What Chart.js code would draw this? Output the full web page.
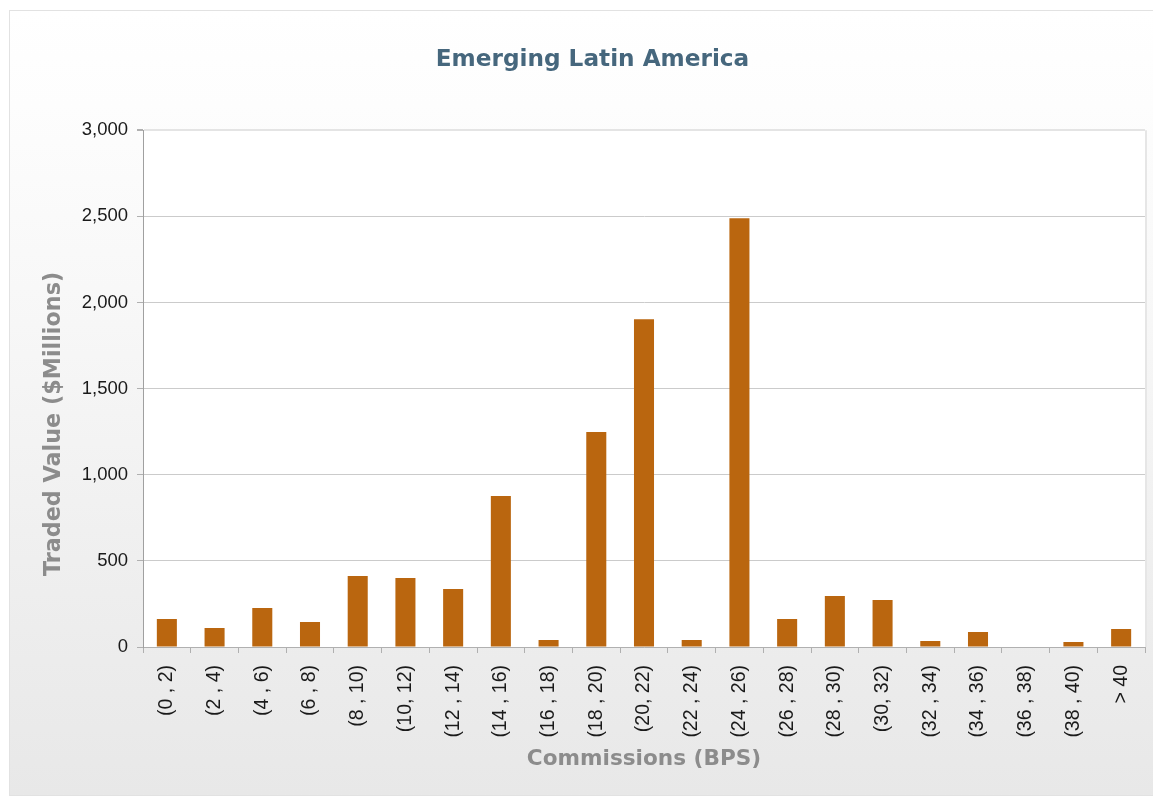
<!DOCTYPE html>
<html>
<head>
<meta charset="utf-8">
<script src="https://cdn.jsdelivr.net/npm/chart.js@4.4.1/dist/chart.umd.min.js"></script>
<style>
  html, body { margin: 0; padding: 0; width: 1153px; height: 797px; overflow: hidden; background: #ffffff; }
  #frame { position: absolute; left: 9px; top: 10px; width: 1150px; height: 784px;
    border: 1px solid #e2e2e2;
    background: linear-gradient(to bottom, #ffffff 0%, #fdfdfd 12%, #f7f7f7 40%, #efefef 70%, #e8e8e8 100%); }
  #c { position: absolute; left: 0; top: 0; }
</style>
</head>
<body>
<div id="frame"></div>
<canvas id="c" width="1153" height="797"></canvas>
<script>
const chartTitle = 'Emerging Latin America';
const xAxisTitle = 'Commissions (BPS)';
const yAxisTitle = 'Traded Value ($Millions)';
const categories = ['(0 , 2)', '(2 , 4)', '(4 , 6)', '(6 , 8)', '(8 , 10)', '(10, 12)', '(12 , 14)',
  '(14 , 16)', '(16 , 18)', '(18 , 20)', '(20, 22)', '(22 , 24)', '(24 , 26)', '(26 , 28)',
  '(28 , 30)', '(30, 32)', '(32 , 34)', '(34 , 36)', '(36 , 38)', '(38 , 40)', '> 40'];
const tradedValue = [163, 110, 226, 145, 412, 400, 337, 876, 41, 1248, 1903, 41, 2489, 162,
  296, 273, 35, 87, 0, 29, 104];
const yTicks = [0, 500, 1000, 1500, 2000, 2500, 3000];

const plotBg = {
  id: 'plotBg',
  beforeDraw(chart) {
    const {ctx, chartArea: a} = chart;
    ctx.save();
    ctx.fillStyle = '#ffffff';
    ctx.fillRect(a.left, a.top, a.right - a.left, a.bottom - a.top);
    ctx.restore();
  },
  afterDraw(chart) {
    const {ctx, chartArea: a} = chart;
    ctx.save();
    ctx.strokeStyle = '#e6e6e6';
    ctx.lineWidth = 2;
    ctx.beginPath();
    ctx.moveTo(a.right + 1, a.top);
    ctx.lineTo(a.right + 1, a.bottom);
    ctx.stroke();
    ctx.restore();
    // y-axis title
    ctx.save();
    ctx.translate(54, 424);
    ctx.rotate(-Math.PI / 2);
    ctx.font = 'bold 22.3px "DejaVu Sans"';
    ctx.fillStyle = '#8c8c8c';
    ctx.textAlign = 'center';
    ctx.textBaseline = 'middle';
    ctx.fillText(yAxisTitle, 0, 0);
    ctx.restore();
  }
};

new Chart(document.getElementById('c'), {
  type: 'bar',
  data: {
    labels: categories,
    datasets: [{
      label: 'Traded Value',
      data: tradedValue,
      backgroundColor: '#ba660f',
      borderWidth: 0,
      categoryPercentage: 1.0,
      barPercentage: 0.42
    }]
  },
  options: {
    responsive: false,
    devicePixelRatio: 1,
    animation: false,
    layout: { padding: { left: 40, right: 8, top: 0, bottom: 0 } },
    plugins: {
      legend: { display: false },
      tooltip: { enabled: false },
      title: {
        display: true,
        text: chartTitle,
        color: '#46677d',
        font: { family: '"DejaVu Sans"', size: 23.2, weight: 'bold', lineHeight: 1.2 },
        padding: { top: 46, bottom: 56.3 }
      }
    },
    scales: {
      x: {
        grid: { display: true, drawOnChartArea: false, drawTicks: true, tickLength: 6, color: '#b0b0b0', offset: true },
        border: { display: true, color: '#b0b0b0', width: 1 },
        ticks: {
          color: '#1a1a1a',
          font: { family: '"Liberation Sans", Arial, sans-serif', size: 19.5 },
          minRotation: 90, maxRotation: 90, autoSkip: false, padding: 12
        },
        title: {
          display: true,
          text: xAxisTitle,
          color: '#8c8c8c',
          font: { family: '"DejaVu Sans"', size: 21.6, weight: 'bold', lineHeight: 1.2 },
          padding: { top: 4, bottom: 25 }
        },
        afterFit(scale) { scale.height = 150; scale.paddingLeft = 0; scale.paddingRight = 0; }
      },
      y: {
        min: 0, max: 3000,
        afterBuildTicks(scale) { scale.ticks = yTicks.map(v => ({ value: v })); },
        grid: {
          color: ctx => (ctx.tick && ctx.tick.value === 3000) ? '#e4e4e4' : '#cbcbcb',
          lineWidth: ctx => (ctx.tick && ctx.tick.value === 3000) ? 2 : 1,
          tickColor: '#b0b0b0',
          drawTicks: true, tickLength: 6
        },
        border: { display: true, color: '#a0a0a0', width: 1 },
        ticks: {
          color: '#1a1a1a',
          font: { family: '"Liberation Sans", Arial, sans-serif', size: 18.5 },
          padding: 9,
          callback: v => Number(v).toLocaleString('en-US')
        },
        afterFit(scale) { scale.width = 103; scale.paddingTop = 0; scale.paddingBottom = 0; }
      }
    }
  },
  plugins: [plotBg]
});
</script>
</body>
</html>
